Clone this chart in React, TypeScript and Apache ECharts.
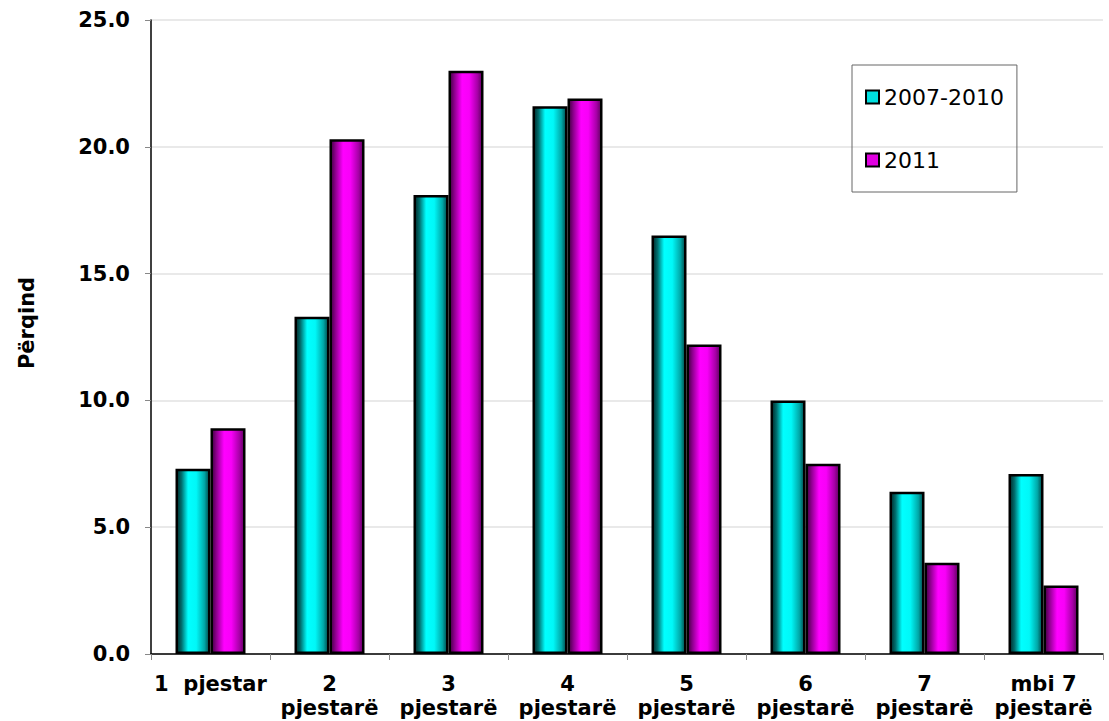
import React, { useEffect, useRef } from "react";
import * as echarts from "echarts";

const categories = [
  "1  pjestar",
  "2\npjestarë",
  "3\npjestarë",
  "4\npjestarë",
  "5\npjestarë",
  "6\npjestarë",
  "7\npjestarë",
  "mbi 7\npjestarë",
];
const series2007 = [7.3, 13.3, 18.1, 21.6, 16.5, 10.0, 6.4, 7.1];
const series2011 = [8.9, 20.3, 23.0, 21.9, 12.2, 7.5, 3.6, 2.7];
const seriesNames = ["2007-2010", "2011"];
const yTicks = { min: 0, max: 25, interval: 5 };
const yAxisTitle = "Përqind";

const FONT = "DejaVu Sans, Verdana, sans-serif";

const tealGrad = new echarts.graphic.LinearGradient(0, 0, 1, 0, [
  { offset: 0, color: "#002828" },
  { offset: 0.15, color: "#007070" },
  { offset: 0.35, color: "#00ffff" },
  { offset: 0.6, color: "#00f8f8" },
  { offset: 0.85, color: "#00a8a8" },
  { offset: 1, color: "#004848" },
]);
const magGrad = new echarts.graphic.LinearGradient(0, 0, 1, 0, [
  { offset: 0, color: "#400040" },
  { offset: 0.15, color: "#900090" },
  { offset: 0.38, color: "#ff00ff" },
  { offset: 0.6, color: "#f800f8" },
  { offset: 0.85, color: "#a800a8" },
  { offset: 1, color: "#600060" },
]);

export default function App() {
  const ref = useRef<HTMLDivElement>(null);
  useEffect(() => {
    if (!ref.current) return;
    const chart = echarts.init(ref.current, null, { renderer: "svg" });
    chart.setOption({
      animation: false,
      backgroundColor: "#ffffff",
      grid: { left: 151, top: 20, right: 6, bottom: 67, containLabel: false },
      legend: {
        orient: "vertical",
        left: 852,
        top: 65,
        padding: [21, 13, 21, 13],
        itemGap: 41,
        itemWidth: 13,
        itemHeight: 13,
        borderColor: "#666666",
        borderWidth: 1,
        textStyle: { fontFamily: FONT, fontSize: 22, color: "#000" },
        data: [
          { name: seriesNames[0], icon: "rect", itemStyle: { color: "#00e0e0", borderColor: "#000", borderWidth: 2 } },
          { name: seriesNames[1], icon: "rect", itemStyle: { color: "#e000e0", borderColor: "#000", borderWidth: 2 } },
        ],
      },
      xAxis: {
        type: "category",
        data: categories,
        axisLine: { lineStyle: { color: "#000", width: 1.5 } },
        axisTick: { show: true, alignWithLabel: false, length: 6, lineStyle: { color: "#888" } },
        axisLabel: {
          interval: 0,
          margin: 18,
          fontFamily: FONT,
          fontWeight: "bold",
          fontSize: 21,
          lineHeight: 24,
          color: "#000",
        },
      },
      yAxis: {
        type: "value",
        min: yTicks.min,
        max: yTicks.max,
        interval: yTicks.interval,
        name: yAxisTitle,
        nameLocation: "middle",
        nameGap: 114,
        nameRotate: 90,
        nameTextStyle: {
          fontFamily: FONT,
          fontWeight: "bold",
          fontSize: 21,
          color: "#000",
          padding: [0, 0, 0, 28],
        },
        axisLine: { show: true, lineStyle: { color: "#000", width: 1.5 } },
        axisTick: { show: true, length: 6, lineStyle: { color: "#888" } },
        splitLine: { lineStyle: { color: "#e2e2e2", width: 1.5 } },
        axisLabel: {
          margin: 21,
          fontFamily: FONT,
          fontWeight: "bold",
          fontSize: 21,
          color: "#000",
          formatter: (v: number) => v.toFixed(1),
        },
      },
      series: [
        {
          name: seriesNames[0],
          type: "bar",
          data: series2007,
          barWidth: 35,
          barGap: "0%",
          itemStyle: { color: tealGrad, borderColor: "#000", borderWidth: 2.5 },
        },
        {
          name: seriesNames[1],
          type: "bar",
          data: series2011,
          barWidth: 35,
          barGap: "0%",
          itemStyle: { color: magGrad, borderColor: "#000", borderWidth: 2.5 },
        },
      ],
    });
    return () => chart.dispose();
  }, []);
  return (
    <div
      ref={ref}
      style={{ position: "absolute", left: 0, top: 0, width: 1109, height: 721, background: "#fff" }}
    />
  );
}
